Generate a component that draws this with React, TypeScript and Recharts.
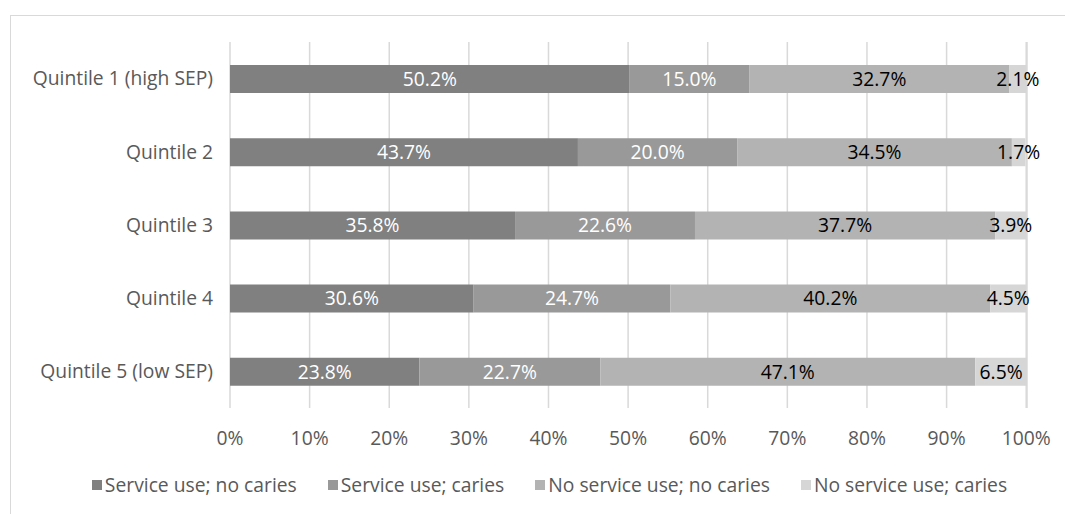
import React from "react";
import { BarChart, Bar, XAxis, YAxis, CartesianGrid, Legend, LabelList } from "recharts";

const categories = ["Quintile 1 (high SEP)", "Quintile 2", "Quintile 3", "Quintile 4", "Quintile 5 (low SEP)"];
const serviceNoCaries = [50.2, 43.7, 35.8, 30.6, 23.8];
const serviceCaries = [15.0, 20.0, 22.6, 24.7, 22.7];
const noServiceNoCaries = [32.7, 34.5, 37.7, 40.2, 47.1];
const noServiceCaries = [2.1, 1.7, 3.9, 4.5, 6.5];
const xTicks = [0, 10, 20, 30, 40, 50, 60, 70, 80, 90, 100];

const seriesNames = ["Service use; no caries", "Service use; caries", "No service use; no caries", "No service use; caries"];
const seriesKeys = ["s1", "s2", "s3", "s4"];
const seriesColors = ["#808080", "#999999", "#b3b3b3", "#d6d6d6"];
const labelColors = ["#ffffff", "#ffffff", "#000000", "#000000"];

const data = categories.map((c, i) => ({
  name: c,
  s1: serviceNoCaries[i],
  s2: serviceCaries[i],
  s3: noServiceNoCaries[i],
  s4: noServiceCaries[i],
}));

const FONT = "'Open Sans', 'Noto Sans', sans-serif";
const FS = 19.3;

const LegendContent = () => (
  <div style={{ display: "flex", justifyContent: "center", gap: 31, fontFamily: FONT, fontSize: FS, color: "#595959", paddingLeft: 34, lineHeight: "26px" }}>
    {seriesNames.map((n, i) => (
      <div key={n} style={{ display: "flex", alignItems: "center" }}>
        <span style={{ display: "inline-block", width: 10, height: 10, background: seriesColors[i], marginRight: 3 }} />
        <span>{n}</span>
      </div>
    ))}
  </div>
);

export default function App() {
  return (
    <div style={{ position: "absolute", left: 0, top: 0, width: 1065, height: 514, overflow: "hidden", background: "#fff" }}>
      <div style={{ position: "absolute", left: 10, top: 15, width: 1200, height: 700, border: "1.5px solid #d9d9d9", boxSizing: "border-box" }} />
      <div style={{ position: "absolute", left: 0, top: 0 }}>
        <BarChart
          width={1065}
          height={514}
          data={data}
          layout="vertical"
          margin={{ top: 42, right: 38, bottom: 76, left: 0 }}
          barSize={28}
        >
          <CartesianGrid horizontal={false} vertical={true} stroke="#d9d9d9" strokeWidth={1.5} />
          <XAxis
            type="number"
            domain={[0, 100]}
            ticks={xTicks}
            tickFormatter={(v) => `${v}%`}
            axisLine={false}
            tickLine={false}
            tickSize={6}
            tickMargin={17}
            height={30}
            tick={{ fill: "#595959", fontSize: FS, fontFamily: FONT }}
            interval={0}
          />
          <YAxis
            type="category"
            dataKey="name"
            width={230}
            axisLine={false}
            tickLine={false}
            tickSize={6}
            tickMargin={11}
            tick={{ fill: "#595959", fontSize: FS, fontFamily: FONT }}
            interval={0}
          />
          <Legend layout="horizontal" verticalAlign="middle" align="center" wrapperStyle={{ top: 472, left: 0, width: 1065 }} content={<LegendContent />} />
          {seriesKeys.map((k, i) => (
            <Bar key={k} dataKey={k} name={seriesNames[i]} stackId="a" fill={seriesColors[i]} isAnimationActive={false}>
              <LabelList
                dataKey={k}
                position="center"
                formatter={(v: any) => `${Number(v).toFixed(1)}%`}
                fill={labelColors[i]}
                style={{ fontSize: FS, fontFamily: FONT, fill: labelColors[i] }}
              />
            </Bar>
          ))}
        </BarChart>
      </div>
    </div>
  );
}
